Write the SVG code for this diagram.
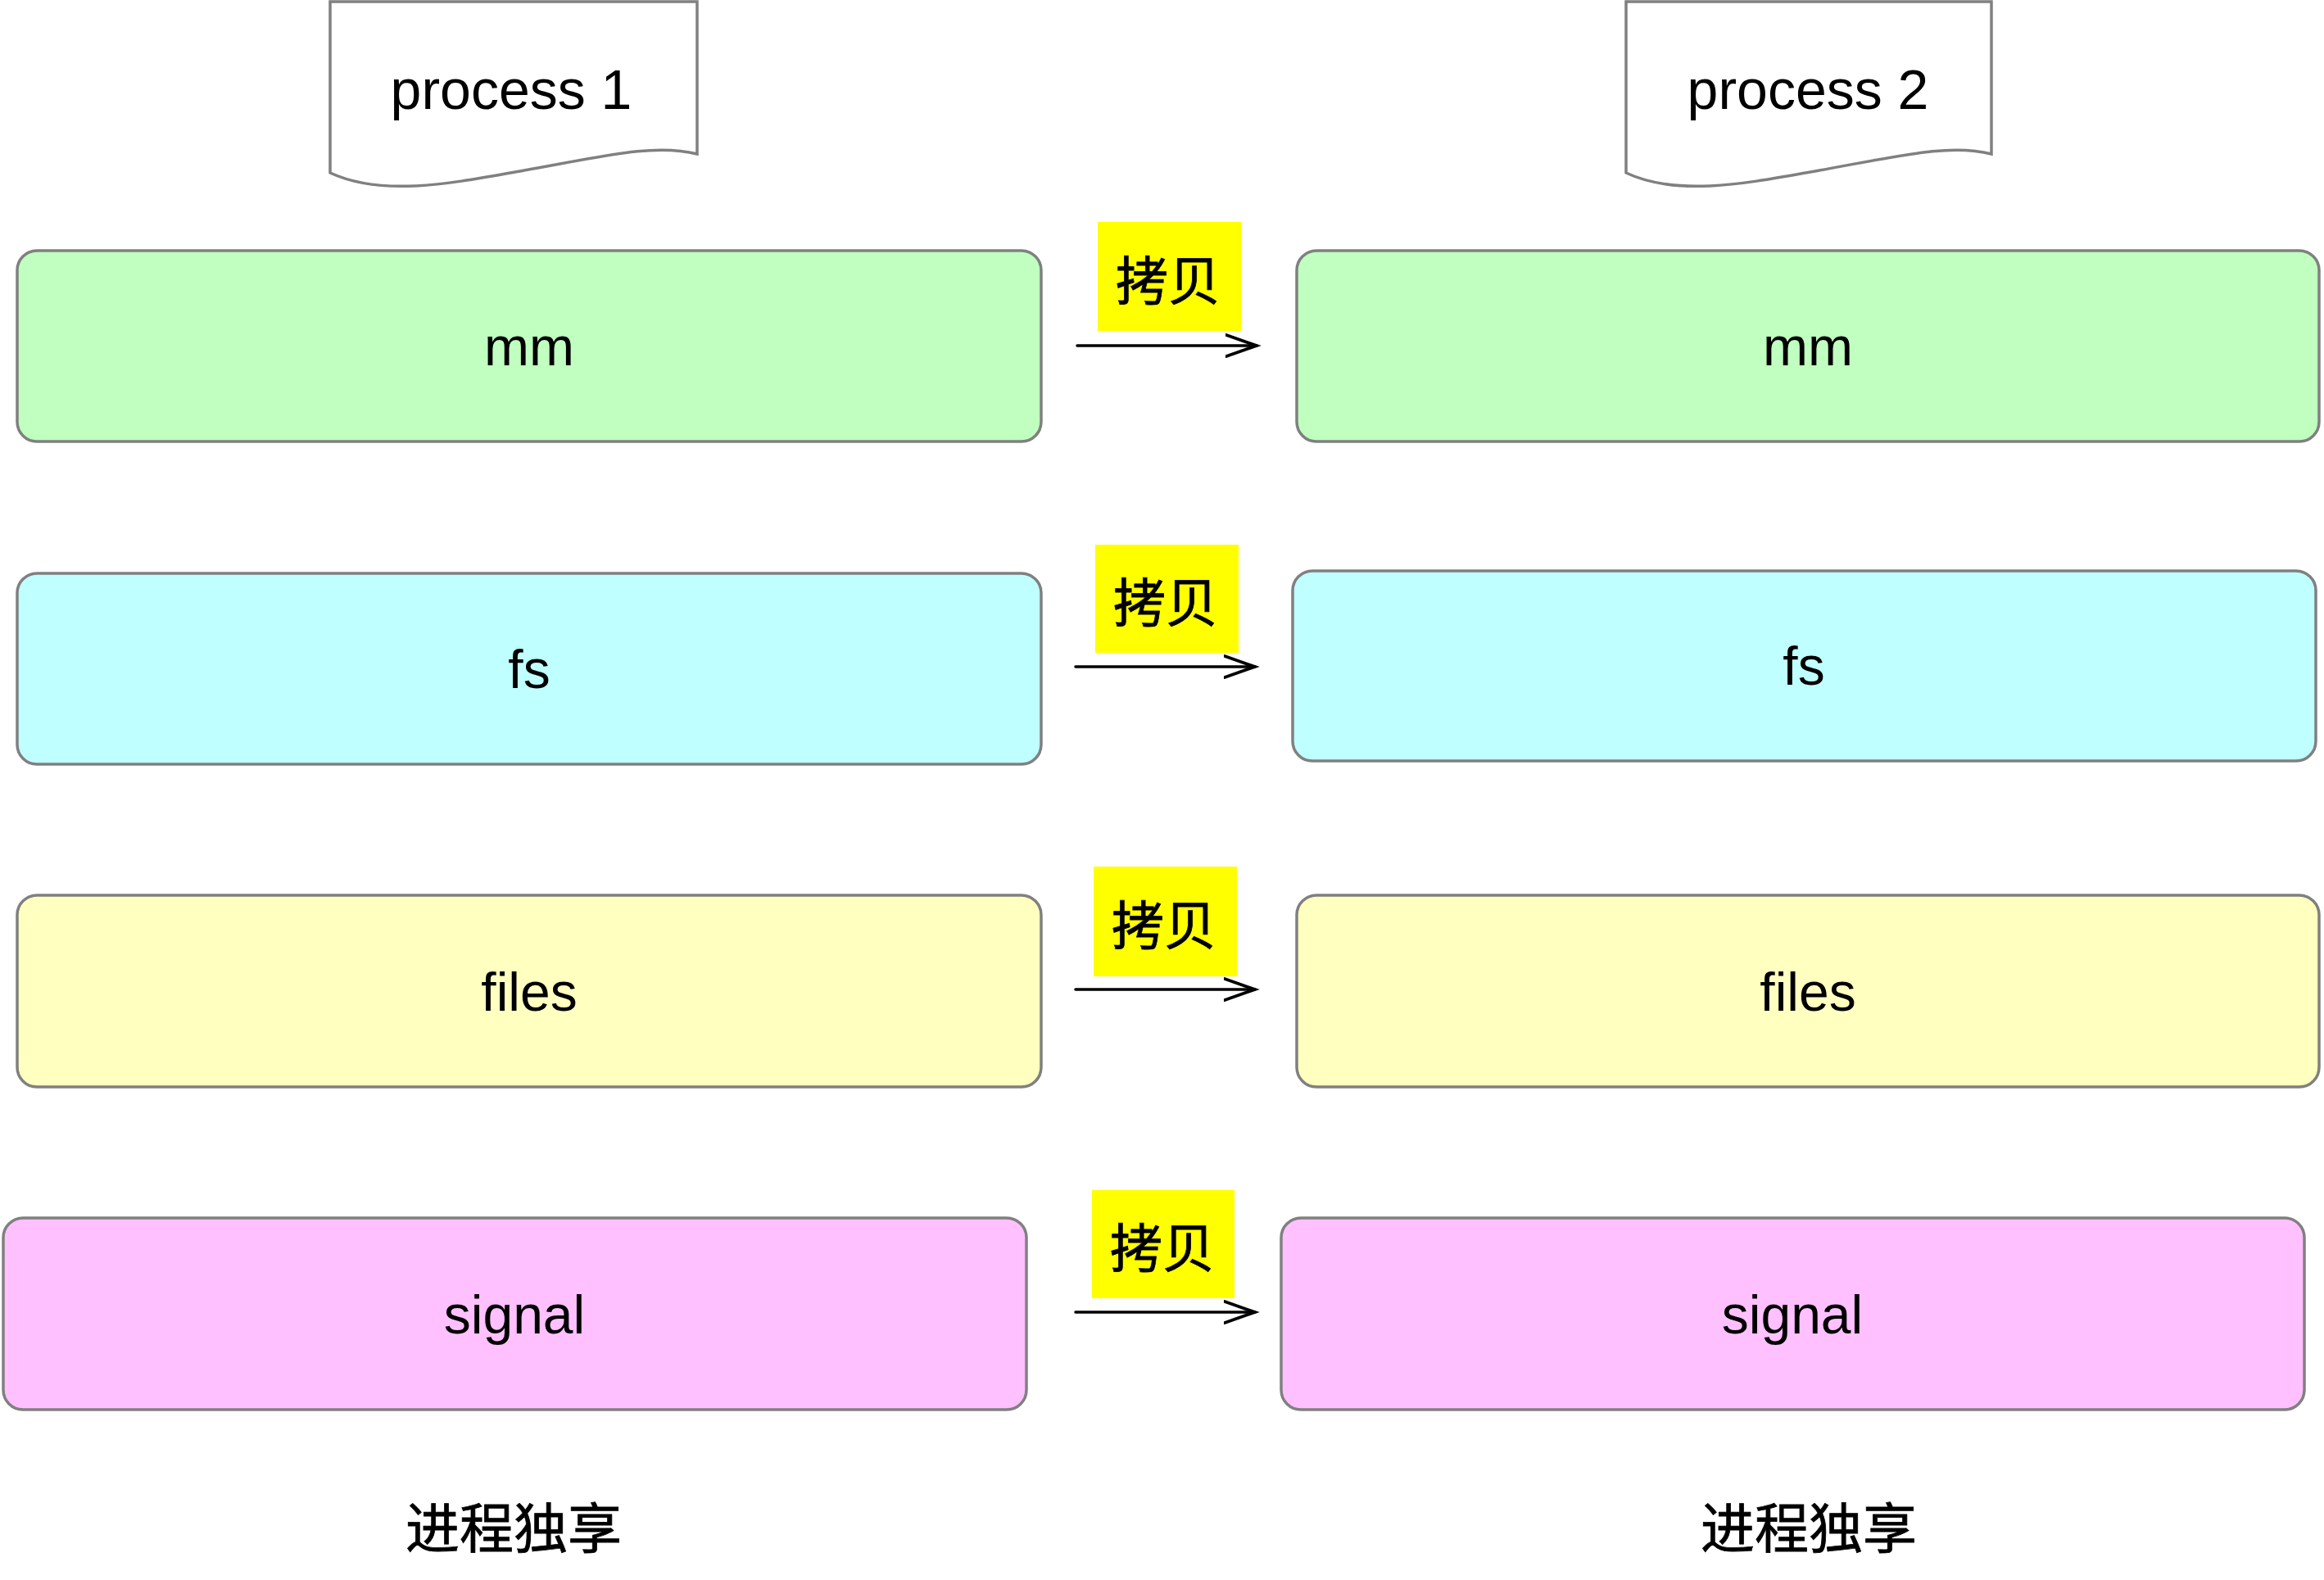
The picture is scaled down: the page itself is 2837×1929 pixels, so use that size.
<svg xmlns="http://www.w3.org/2000/svg" width="2837" height="1929" viewBox="0 0 2837 1929">
<style>
.box{stroke:#808080;stroke-width:3.5}
.doc{fill:#ffffff;stroke:#808080;stroke-width:3.5;stroke-linejoin:miter}
.lbl{font-family:"Liberation Sans","Noto Sans CJK SC",sans-serif;font-size:66px;fill:#000000;text-anchor:middle}
.big{font-size:68px}
.cjk{font-family:"Noto Sans CJK SC","Liberation Sans",sans-serif;font-size:64px;fill:#000000;text-anchor:middle;dominant-baseline:central;font-weight:400;stroke:#000000;stroke-width:0.8}
.tag{fill:#ffff00}
.edge{stroke:#000000;stroke-width:3.5;fill:none;stroke-linecap:round}
.mm{fill:#c0ffc0}
.fs{fill:#c0ffff}
.files{fill:#ffffc0}
.signal{fill:#ffc0ff}
</style>
<defs>
<marker id="arr" markerUnits="userSpaceOnUse" markerWidth="50" markerHeight="40" refX="38" refY="15" orient="auto">
<path d="M1,2 L38,15 L1,28" fill="none" stroke="#000000" stroke-width="3.8" stroke-linecap="round" stroke-linejoin="miter"/>
</marker>
</defs>
<rect width="2837" height="1929" fill="#ffffff"/>

<g id="process1">
<path class="doc" d="M403,2 H851 V188 C800,175 740,190 640,208 C560,222 470,242 403,211 Z"/>
<text class="lbl big" x="624" y="133">process 1</text>
</g>
<g id="process2">
<path class="doc" d="M1985,2 H2431 V188 C2381,175 2321,190 2221,208 C2141,222 2051,242 1985,211 Z"/>
<text class="lbl big" x="2207" y="133">process 2</text>
</g>

<g id="mm1"><rect class="box mm" x="21" y="306" width="1250" height="233" rx="24"/><text class="lbl" x="646" y="446">mm</text></g>
<g id="mm2"><rect class="box mm" x="1583" y="306" width="1248" height="233" rx="24"/><text class="lbl" x="2207" y="446">mm</text></g>
<g id="fs1"><rect class="box fs" x="21" y="700" width="1250" height="233" rx="24"/><text class="lbl" x="646" y="840">fs</text></g>
<g id="fs2"><rect class="box fs" x="1578" y="697" width="1249" height="232" rx="24"/><text class="lbl" x="2202" y="836">fs</text></g>
<g id="files1"><rect class="box files" x="21" y="1093" width="1250" height="234" rx="24"/><text class="lbl" x="646" y="1234">files</text></g>
<g id="files2"><rect class="box files" x="1583" y="1093" width="1248" height="234" rx="24"/><text class="lbl" x="2207" y="1234">files</text></g>
<g id="signal1"><rect class="box signal" x="4" y="1487" width="1249" height="234" rx="24"/><text class="lbl" x="628" y="1628">signal</text></g>
<g id="signal2"><rect class="box signal" x="1564" y="1487" width="1249" height="234" rx="24"/><text class="lbl" x="2188" y="1628">signal</text></g>

<g id="connectors">
<line class="edge" x1="1315" y1="422" x2="1534" y2="422" marker-end="url(#arr)"/>
<line class="edge" x1="1313" y1="814" x2="1532" y2="814" marker-end="url(#arr)"/>
<line class="edge" x1="1313" y1="1208" x2="1532" y2="1208" marker-end="url(#arr)"/>
<line class="edge" x1="1313" y1="1602" x2="1532" y2="1602" marker-end="url(#arr)"/>
</g>

<g id="label1"><rect class="tag" x="1340" y="271" width="175" height="133"/><text class="cjk" x="1426" y="338">拷贝</text></g>
<g id="label2"><rect class="tag" x="1337" y="665" width="175" height="132"/><text class="cjk" x="1423" y="731">拷贝</text></g>
<g id="label3"><rect class="tag" x="1335" y="1058" width="175" height="134"/><text class="cjk" x="1421" y="1125">拷贝</text></g>
<g id="label4"><rect class="tag" x="1333" y="1453" width="174" height="132"/><text class="cjk" x="1419" y="1519">拷贝</text></g>

<g id="exclusive1"><text class="cjk" x="627" y="1861" style="font-size:66px">进程独享</text></g>
<g id="exclusive2"><text class="cjk" x="2208" y="1861" style="font-size:66px">进程独享</text></g>
</svg>
